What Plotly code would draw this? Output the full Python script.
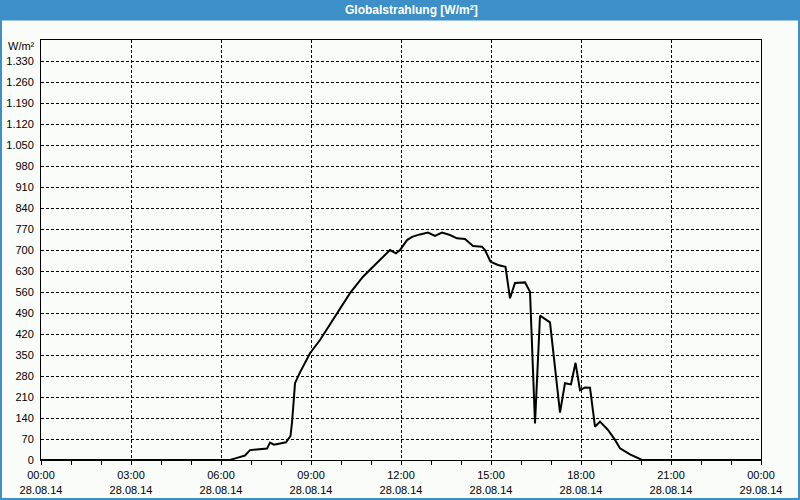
import plotly.graph_objects as go

times = [
    "2014-08-28 00:00", "2014-08-28 06:18", "2014-08-28 06:32", "2014-08-28 06:48",
    "2014-08-28 06:58", "2014-08-28 07:26", "2014-08-28 07:32", "2014-08-28 07:38",
    "2014-08-28 07:46", "2014-08-28 07:58", "2014-08-28 08:10", "2014-08-28 08:19",
    "2014-08-28 08:22", "2014-08-28 08:26", "2014-08-28 08:28", "2014-08-28 08:38",
    "2014-08-28 08:50", "2014-08-28 08:58", "2014-08-28 09:18", "2014-08-28 09:52",
    "2014-08-28 10:18", "2014-08-28 10:44", "2014-08-28 11:12", "2014-08-28 11:38",
    "2014-08-28 11:50", "2014-08-28 11:58", "2014-08-28 12:12", "2014-08-28 12:22",
    "2014-08-28 12:38", "2014-08-28 12:54", "2014-08-28 13:08", "2014-08-28 13:22",
    "2014-08-28 13:38", "2014-08-28 13:52", "2014-08-28 14:08", "2014-08-28 14:24",
    "2014-08-28 14:42", "2014-08-28 14:48", "2014-08-28 14:59", "2014-08-28 15:14",
    "2014-08-28 15:29", "2014-08-28 15:38", "2014-08-28 15:48", "2014-08-28 16:08",
    "2014-08-28 16:18", "2014-08-28 16:28", "2014-08-28 16:38", "2014-08-28 16:58",
    "2014-08-28 17:18", "2014-08-28 17:28", "2014-08-28 17:40", "2014-08-28 17:49",
    "2014-08-28 17:58", "2014-08-28 18:08", "2014-08-28 18:18", "2014-08-28 18:28",
    "2014-08-28 18:38", "2014-08-28 18:54", "2014-08-28 19:08", "2014-08-28 19:18",
    "2014-08-28 19:38", "2014-08-28 19:58", "2014-08-28 20:02", "2014-08-29 00:00",
]
values = [
    0, 0, 7, 15,
    33, 37, 38, 58,
    51, 55, 59, 80,
    125, 210, 256, 292,
    330, 356, 400, 489,
    556, 611, 656, 700,
    689, 700, 733, 744,
    752, 758, 747, 758,
    750, 739, 737, 713,
    711, 700, 661, 650,
    644, 539, 590, 592,
    561, 122, 481, 459,
    158, 256, 252, 324,
    233, 242, 241, 111,
    128, 100, 67, 39,
    19, 3, 0, 0,
]

x_tickvals = [
    "2014-08-28 00:00", "2014-08-28 03:00", "2014-08-28 06:00", "2014-08-28 09:00",
    "2014-08-28 12:00", "2014-08-28 15:00", "2014-08-28 18:00", "2014-08-28 21:00",
    "2014-08-29 00:00",
]
x_ticktext = [
    "00:00<br>28.08.14", "03:00<br>28.08.14", "06:00<br>28.08.14", "09:00<br>28.08.14",
    "12:00<br>28.08.14", "15:00<br>28.08.14", "18:00<br>28.08.14", "21:00<br>28.08.14",
    "00:00<br>29.08.14",
]
y_tickvals = [0, 70, 140, 210, 280, 350, 420, 490, 560, 630, 700, 770, 840, 910,
              980, 1050, 1120, 1190, 1260, 1330]
y_ticktext = ["0", "70", "140", "210", "280", "350", "420", "490", "560", "630", "700",
              "770", "840", "910", "980", "1.050", "1.120", "1.190", "1.260", "1.330"]

title_text = "Globalstrahlung [W/m²]"
unit_text = "W/m²"

BG = "#FAFCFA"
BLUE = "#3C8FC7"
FONT = "Liberation Sans"

W, H = 800, 500
L, R, T, B = 41, 39, 40, 40
PW, PH = W - L - R, H - T - B


def px(x):
    return (x - L) / PW


def py(y):
    return (H - B - y) / PH


fig = go.Figure()
fig.add_trace(go.Scatter(
    x=times, y=values, mode="lines",
    line=dict(color="black", width=2),
    hoverinfo="skip", showlegend=False,
))

fig.update_layout(
    width=W, height=H,
    margin=dict(l=L, r=R, t=T, b=B, pad=0, autoexpand=False),
    paper_bgcolor=BG, plot_bgcolor=BG,
    font=dict(family=FONT, size=11, color="black"),
    showlegend=False,
    xaxis=dict(
        type="date", automargin=False,
        range=["2014-08-28 00:00", "2014-08-29 00:00"],
        tickmode="array", tickvals=x_tickvals, ticktext=x_ticktext,
        ticks="outside", ticklen=4, tickcolor="black", tickwidth=1,
        ticklabelstandoff=1,
        minor=dict(dtick=3600000, ticks="outside", ticklen=4, tickcolor="black",
                   showgrid=False),
        showgrid=True, gridcolor="black", gridwidth=1, griddash="3px,2px",
        showline=True, linecolor="black", linewidth=1, mirror=True,
        zeroline=False, fixedrange=True,
        tickfont=dict(family=FONT, size=11, color="black"),
    ),
    yaxis=dict(
        range=[0, 1400], automargin=False,
        tickmode="array", tickvals=y_tickvals, ticktext=y_ticktext,
        ticks="", ticklabelstandoff=4,
        showgrid=True, gridcolor="black", gridwidth=1, griddash="3px,2px",
        showline=True, linecolor="black", linewidth=1, mirror=True,
        zeroline=False, fixedrange=True,
        tickfont=dict(family=FONT, size=11, color="black"),
    ),
    shapes=[
        dict(type="rect", xref="paper", yref="paper", layer="above",
             x0=px(0), x1=px(800), y0=py(20.5), y1=py(0),
             fillcolor=BLUE, line=dict(width=0)),
        dict(type="rect", xref="paper", yref="paper", layer="above",
             x0=px(1), x1=px(799), y0=py(499), y1=py(1),
             fillcolor="rgba(0,0,0,0)", line=dict(color=BLUE, width=2)),
    ],
    annotations=[
        dict(text="<b>" + title_text + "</b>", xref="paper", yref="paper",
             x=px(412), y=py(10), xanchor="center", yanchor="middle",
             showarrow=False, font=dict(family=FONT, size=12, color="white")),
        dict(text=unit_text, xref="paper", yref="paper",
             x=px(37), y=py(46), xanchor="right", yanchor="middle",
             showarrow=False, font=dict(family=FONT, size=11, color="black")),
    ],
)

fig.write_html("out.html")
